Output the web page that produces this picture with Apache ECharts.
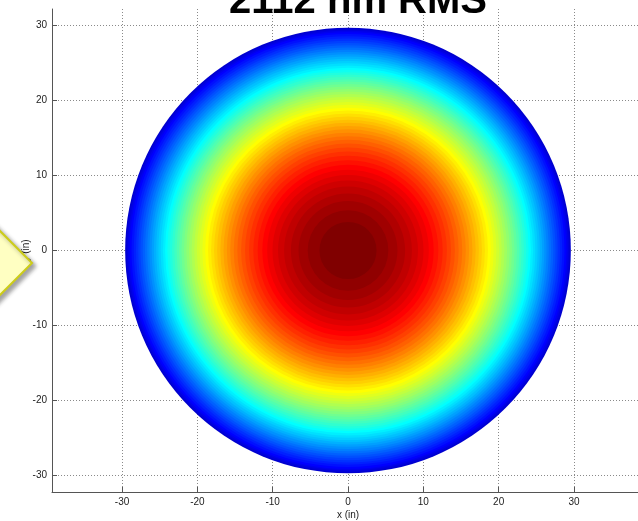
<!DOCTYPE html>
<html>
<head>
<meta charset="utf-8">
<script src="https://cdn.jsdelivr.net/npm/echarts@6/dist/echarts.min.js"></script>
<style>
html,body{margin:0;padding:0;background:#fff;}
#chart{width:638px;height:521px;}
</style>
</head>
<body>
<div id="chart"></div>
<script>
// Tick values of both axes
const xTicks = [-30, -20, -10, 0, 10, 20, 30];
const yTicks = [-30, -20, -10, 0, 10, 20, 30];
const titleText = '2112 nm RMS';

// Contour bands (outer radius in inches, jet(64) colour index)
const bandRadius = [29.65, 29.45, 29.25, 29.05, 28.80, 28.50, 28.20, 27.90, 27.61, 27.31,
                    27.01, 26.71, 26.41, 26.12, 25.82, 25.52, 25.22, 24.92, 24.63, 24.33,
                    24.03, 23.73, 23.42, 23.11, 22.80, 22.48, 22.16, 21.83, 21.50,
                    21.16, 20.81, 20.46, 20.11, 19.75, 19.38, 19.00, 18.62, 18.22, 17.82,
                    17.41, 16.99, 16.56, 16.12, 15.67, 15.20, 14.72, 14.22, 13.70, 13.16,
                    12.60, 12.02, 11.40, 10.75, 10.05, 9.31, 8.50, 7.60, 6.58, 5.37, 3.80];
const bandLevel = [4, 5, 6, 7, 8, 9, 10, 11, 12,
                   13, 14, 15, 16, 17, 18, 19, 20, 21, 22,
                   23, 24, 25, 26, 27, 28, 29, 30, 31, 32,
                   33, 34, 35, 36, 37, 38, 39, 40, 41, 42,
                   43, 44, 45, 46, 47, 48, 49, 50, 51, 52,
                   53, 54, 55, 56, 57, 58, 59, 60, 61, 62, 63];
const bandCenterX = 0;
const bandCenterY = 0;

const bandData = bandRadius.map((r, i) => [bandCenterX, bandCenterY, r, bandLevel[i]]);

const jet = ['#000080', '#0000FF', '#0080FF', '#00FFFF', '#80FF80', '#FFFF00', '#FF8000', '#FF0000', '#800000'];

const axisColor = '#555';
const labelFont = { fontFamily: 'Liberation Sans, Arial, sans-serif', fontSize: 10, color: '#222' };

const chart = echarts.init(document.getElementById('chart'), null, { renderer: 'canvas' });
chart.setOption({
  animation: false,
  backgroundColor: '#fff',
  grid: { left: 52, top: 9, width: 592, height: 483, containLabel: false, outerBoundsMode: 'none' },
  xAxis: {
    type: 'value', min: -39.3, max: 39.3,
    name: 'x (in)', nameLocation: 'middle', nameGap: 18, nameMoveOverlap: false,
    nameTextStyle: labelFont,
    axisLine: { show: true, onZero: false, lineStyle: { color: axisColor, width: 1 } },
    axisTick: { show: true, inside: true, length: 5, customValues: xTicks, lineStyle: { color: axisColor } },
    axisLabel: Object.assign({ customValues: xTicks, margin: 5 }, labelFont),
    splitLine: { show: true, lineStyle: { type: [1, 2], color: '#8a8a8a', width: 1 } }
  },
  yAxis: {
    type: 'value', min: -32.2, max: 32.2,
    name: 'y (in)', nameLocation: 'middle', nameGap: 21, nameMoveOverlap: false,
    nameTextStyle: labelFont,
    axisLine: { show: true, onZero: false, lineStyle: { color: axisColor, width: 1 } },
    axisTick: { show: true, inside: true, length: 5, customValues: yTicks, lineStyle: { color: axisColor } },
    axisLabel: Object.assign({ customValues: yTicks, margin: 5 }, labelFont),
    splitLine: { show: true, lineStyle: { type: [1, 2], color: '#8a8a8a', width: 1 } }
  },
  visualMap: {
    show: false, type: 'continuous', min: -1, max: 63, dimension: 3, seriesIndex: 0,
    inRange: { color: jet }
  },
  series: [{
    type: 'custom',
    coordinateSystem: 'cartesian2d',
    data: bandData,
    z: 5,
    renderItem: function (params, api) {
      const c = api.coord([api.value(0), api.value(1)]);
      const s = api.size([api.value(2), api.value(2)]);
      return {
        type: 'circle',
        shape: { cx: c[0], cy: c[1], r: (s[0] + s[1]) / 2 },
        style: { fill: api.visual('color'), stroke: null }
      };
    }
  }],
  graphic: [
    {
      type: 'polygon', z: 100,
      shape: { points: [[-40, 191], [32, 263], [-40, 335]] },
      style: {
        fill: '#FFFFC2', stroke: '#CCCC1A', lineWidth: 2,
        shadowBlur: 4, shadowOffsetX: 3, shadowOffsetY: 3, shadowColor: 'rgba(0,0,0,0.35)'
      }
    },
    {
      type: 'text', z: 100, x: 358, y: -18,
      style: {
        text: titleText, fill: '#000',
        font: 'bold 40px "Liberation Sans", Arial, sans-serif',
        align: 'center', verticalAlign: 'top'
      }
    }
  ]
});
</script>
</body>
</html>
